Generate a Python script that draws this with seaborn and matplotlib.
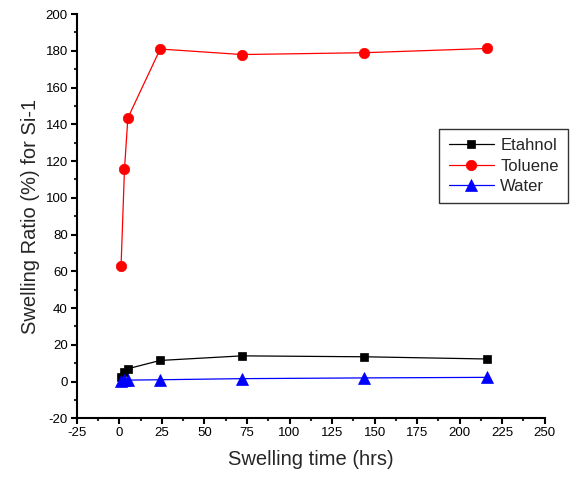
import matplotlib
matplotlib.use("Agg")
import matplotlib.pyplot as plt
from matplotlib.ticker import MultipleLocator
import seaborn as sns
import pandas as pd

# Swelling measurements for Si-1
time_hrs = [1, 3, 5, 24, 72, 144, 216]
ethanol = [2.5, 5.0, 7.0, 11.5, 14.0, 13.5, 12.3]
toluene = [63.0, 115.5, 143.5, 181.0, 178.0, 179.0, 181.3]
water = [0.5, 0.7, 0.8, 1.0, 1.6, 2.0, 2.3]

series_names = ["Etahnol", "Toluene", "Water"]
series_values = [ethanol, toluene, water]
colors = ["black", "red", "blue"]
markers = ["s", "o", "^"]
marker_sizes = [5.5, 7.5, 8.5]

sns.set_style("ticks")
plt.rcParams["font.family"] = ["Liberation Sans", "DejaVu Sans"]
plt.rcParams["axes.unicode_minus"] = False

fig = plt.figure(figsize=(5.82, 4.87), dpi=100)
ax = fig.add_axes([0.132, 0.141, 0.804, 0.830])

for name, vals, c, m, ms in zip(series_names, series_values, colors, markers, marker_sizes):
    df = pd.DataFrame({"time": time_hrs, "ratio": vals})
    sns.lineplot(data=df, x="time", y="ratio", ax=ax, color=c, marker=m,
                 markersize=ms, markeredgecolor=c, markeredgewidth=0.5,
                 linewidth=0.9, label=name, estimator=None)

ax.set_xlim(-25, 250)
ax.set_ylim(-20, 200)
ax.xaxis.set_major_locator(MultipleLocator(25))
ax.xaxis.set_minor_locator(MultipleLocator(12.5))
ax.yaxis.set_major_locator(MultipleLocator(20))
ax.yaxis.set_minor_locator(MultipleLocator(10))

for side in ["top", "right"]:
    ax.spines[side].set_visible(False)
for side in ["left", "bottom"]:
    ax.spines[side].set_linewidth(1.5)
    ax.spines[side].set_color("black")

ax.tick_params(which="major", direction="out", length=4.5, width=1.5,
               labelsize=9.5, colors="black", pad=2)
ax.tick_params(which="minor", direction="out", length=2.5, width=1.5)

ax.set_xlabel("Swelling time (hrs)", fontsize=14.5, labelpad=8)
ax.set_ylabel("Swelling Ratio (%) for Si-1", fontsize=14.5, labelpad=4)

leg = ax.legend(loc="upper left", bbox_to_anchor=(0.775, 0.716), fontsize=12,
                frameon=True, fancybox=False, edgecolor="black",
                handlelength=2.7, borderpad=0.55, labelspacing=0.33,
                handletextpad=0.4, borderaxespad=0)
leg.get_frame().set_linewidth(1.0)

fig.savefig("out.png", dpi=100)
